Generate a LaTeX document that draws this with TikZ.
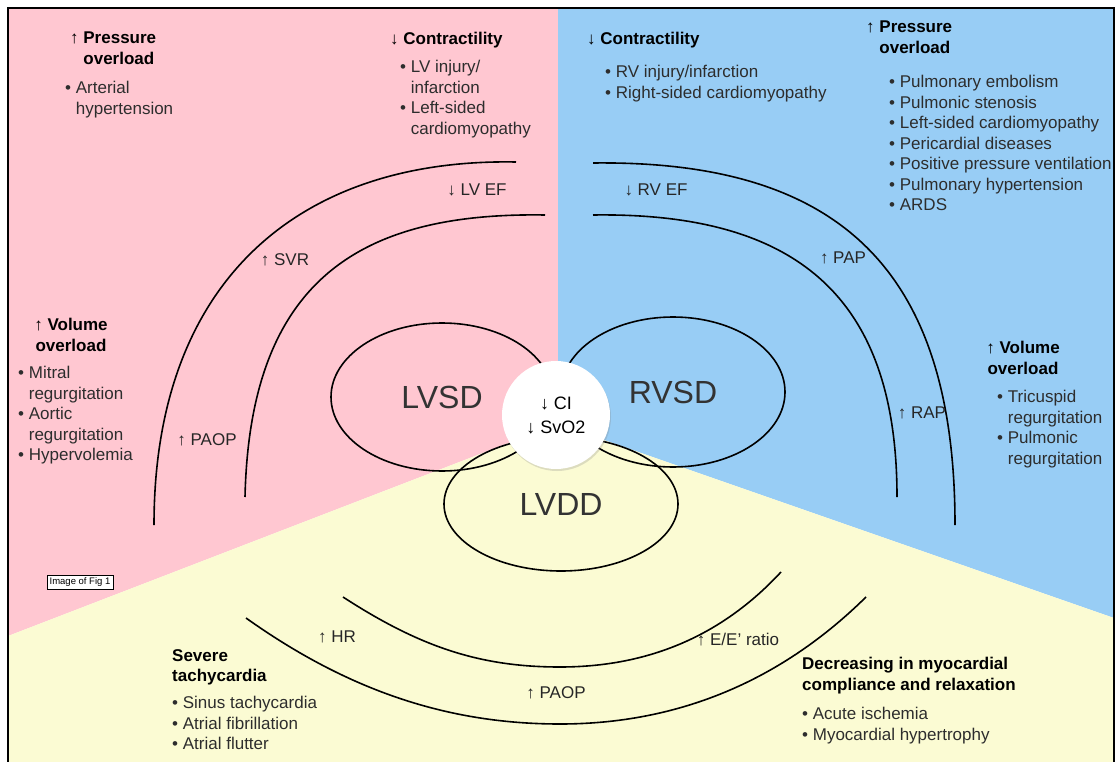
\documentclass[tikz,border=0pt]{standalone}
\usepackage{fontspec}
\setmainfont{Liberation Sans}
\usetikzlibrary{shapes.geometric, shadows}

\definecolor{lvpink}{RGB}{255,199,209}
\definecolor{rvblue}{RGB}{152,205,245}
\definecolor{ddyellow}{RGB}{251,251,211}
\definecolor{itemgray}{RGB}{45,45,45}

\begin{document}
\begin{tikzpicture}[
    x=1pt, y=-1pt,
    every node/.style={inner sep=0pt},
    head/.style={font=\fontsize{17}{20.5}\selectfont\bfseries, align=left, anchor=north west},
    items/.style={font=\fontsize{17}{20.5}\selectfont, text=itemgray, align=left, anchor=north west},
    tag/.style={font=\fontsize{17}{20.5}\selectfont, text=black!85},
    ring/.style={ellipse, draw, line width=1.6pt, font=\fontsize{32}{36}\selectfont, text=black!80},
    curve/.style={line width=1.6pt}
]

\useasboundingbox (0,0) rectangle (1116,762);
\clip (0,0) rectangle (1116,762);

% Three sectors
\coordinate (hub) at (558,424);
\fill[lvpink] (8,8) -- (558,8) -- (hub) -- (8,636) -- cycle;
\fill[rvblue] (558,8) -- (1114,8) -- (1114,618) -- (hub) -- cycle;
\fill[ddyellow] (8,636) -- (hub) -- (1114,618) -- (1114,770) -- (8,770) -- cycle;
\draw[line width=2pt] (8,770) -- (8,8) -- (1114,8) -- (1114,770);

% LV arcs
\coordinate (lvo1) at (516,162);
\coordinate (lvo2) at (154,525);
\coordinate (lvi1) at (545,215);
\coordinate (lvi2) at (245,497);
\draw[curve] (lvo1) .. controls (300,158) and (154,280) .. (lvo2);
\draw[curve] (lvi1) .. controls (360,212) and (250,280) .. (lvi2);

% RV arcs
\coordinate (rvo1) at (593,163);
\coordinate (rvo2) at (955,525);
\coordinate (rvi1) at (593,215);
\coordinate (rvi2) at (897,497);
\draw[curve] (rvo1) .. controls (840,160) and (955,270) .. (rvo2);
\draw[curve] (rvi1) .. controls (800,212) and (897,300) .. (rvi2);

% LVDD arcs
\coordinate (ddi1) at (343,597);
\coordinate (ddi2) at (560,667);
\coordinate (ddi3) at (781,572);
\coordinate (ddo1) at (246,618);
\coordinate (ddo2) at (560,724);
\coordinate (ddo3) at (866,597);
\draw[curve] (ddi1) .. controls (420,647) and (480,667) .. (ddi2) .. controls (660,667) and (730,627) .. (ddi3);
\draw[curve] (ddo1) .. controls (350,692) and (450,724) .. (ddo2) .. controls (690,724) and (790,672) .. (ddo3);

% Dysfunction ellipses
\node[ring, minimum width=222pt, minimum height=148pt] (lvsd) at (442,397) {LVSD};
\node[ring, minimum width=224pt, minimum height=150pt] (rvsd) at (673,392) {RVSD};
\node[ring, minimum width=234pt, minimum height=134pt] (lvdd) at (561,504) {LVDD};

% Common output
\node[circle, fill=white, minimum size=108pt, align=center,
      font=\fontsize{18}{24}\selectfont,
      drop shadow={opacity=0.25, shadow xshift=1pt, shadow yshift=-2pt}] (core) at (556,415) {↓ CI\\↓ SvO2};

% Labels on the arcs
\node[tag] (lvef) at (477,190) {↓ LV EF};
\node[tag] (svr) at (285,260) {↑ SVR};
\node[tag] (paopl) at (207,440) {↑ PAOP};
\node[tag] (rvef) at (656,190) {↓ RV EF};
\node[tag] (pap) at (843,258) {↑ PAP};
\node[tag] (rap) at (922,413) {↑ RAP};
\node[tag] (hr) at (337,637) {↑ HR};
\node[tag] (paopb) at (556,693) {↑ PAOP};
\node[tag] (eeratio) at (738,640) {↑ E/E’ ratio};

% Causes, LV side
\node[head] (lvpress) at (70,32) {↑ Pressure\\\phantom{↑ }overload};
\node[items] (lvpressl) at (65,81) {• Arterial\\\phantom{• }hypertension};
\node[head] (lvcontr) at (390,32) {↓ Contractility};
\node[items] (lvcontrl) at (400,60) {• LV injury/\\\phantom{• }infarction\\• Left-sided\\\phantom{• }cardiomyopathy};
\node[head, align=center, anchor=north] (lvvol) at (71,318) {↑ Volume\\overload};
\node[items] (lvvoll) at (18,366) {• Mitral\\\phantom{• }regurgitation\\• Aortic\\\phantom{• }regurgitation\\• Hypervolemia};

% Causes, RV side
\node[head] (rvcontr) at (587,32) {↓ Contractility};
\node[items] (rvcontrl) at (605,65) {• RV injury/infarction\\• Right-sided cardiomyopathy};
\node[head] (rvpress) at (866,21) {↑ Pressure\\\phantom{↑ }overload};
\node[items] (rvpressl) at (889,75) {• Pulmonary embolism\\• Pulmonic stenosis\\• Left-sided cardiomyopathy\\• Pericardial diseases\\• Positive pressure ventilation\\• Pulmonary hypertension\\• ARDS};
\node[head, align=center, anchor=north] (rvvol) at (1023,341) {↑ Volume\\overload};
\node[items] (rvvoll) at (997,390) {• Tricuspid\\\phantom{• }regurgitation\\• Pulmonic\\\phantom{• }regurgitation};

% Causes, diastolic side
\node[head] (tachy) at (172,649) {Severe\\tachycardia};
\node[items] (tachyl) at (172,696) {• Sinus tachycardia\\• Atrial fibrillation\\• Atrial flutter};
\node[head] (compl) at (802,657) {Decreasing in myocardial\\compliance and relaxation};
\node[items] (compll) at (802,707) {• Acute ischemia\\• Myocardial hypertrophy};

% Caption tag
\node[draw, fill=white, inner sep=2.5pt, font=\fontsize{9.5}{11}\selectfont,
      drop shadow={opacity=0.4, shadow xshift=1pt, shadow yshift=-1pt}] (figtag) at (80,582) {Image of Fig 1};

\end{tikzpicture}
\end{document}
